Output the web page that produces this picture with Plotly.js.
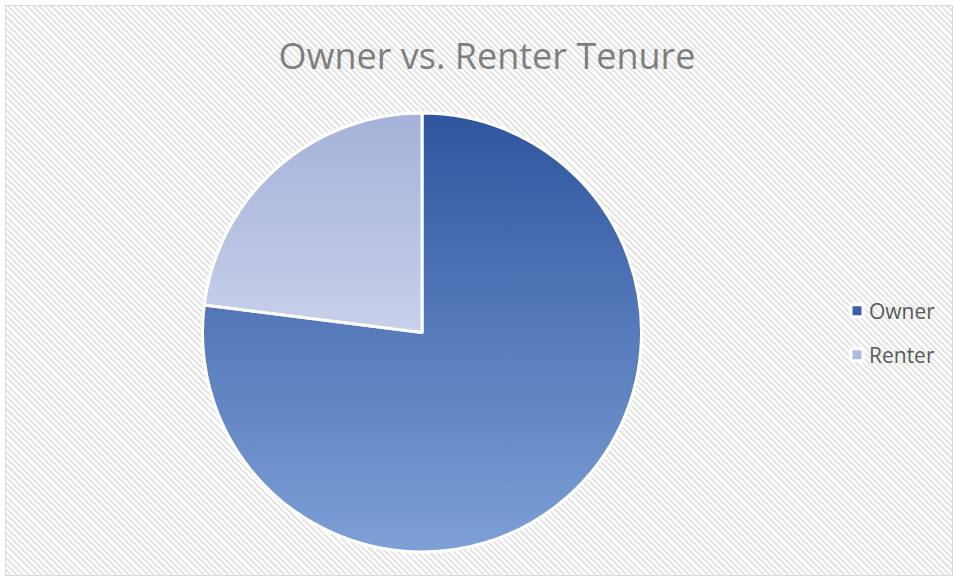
<!DOCTYPE html>
<html>
<head>
<meta charset="utf-8">
<script src="https://cdn.plot.ly/plotly-3.0.1.min.js"></script>
<style>
html,body{margin:0;padding:0;background:#fff;}
#wrap{position:absolute;left:0;top:0;width:955px;height:578px;background:#fff;}
#bg{position:absolute;left:5px;top:5px;width:948px;height:571px;border:1px solid #d9d9d9;box-sizing:border-box;
background:repeating-linear-gradient(45deg,#ffffff 0px,#ffffff 2.2px,#e6e6e6 2.2px,#e6e6e6 4.4px);}
#chart{position:absolute;left:0;top:0;width:955px;height:578px;}
</style>
</head>
<body>
<div id="wrap"><div id="bg"></div><div id="chart"></div></div>
<script>
const categories = ["Owner", "Renter"];
const shares = [77, 23];
const titleText = "Owner vs. Renter Tenure";

const data = [{
  type: "pie",
  labels: categories,
  values: shares,
  sort: false,
  direction: "clockwise",
  rotation: 0,
  textinfo: "none",
  hoverinfo: "label+percent",
  marker: {colors: ["#3d5fa9", "#aebbe0"], line: {color: "#ffffff", width: 3}},
  domain: {x: [0.2115, 0.6723], y: [0.0450, 0.8045]}
}];

const layout = {
  width: 955, height: 578,
  margin: {l: 0, r: 0, t: 0, b: 0},
  paper_bgcolor: "rgba(0,0,0,0)",
  plot_bgcolor: "rgba(0,0,0,0)",
  title: {text: titleText, x: 0.51, xanchor: "center", y: 0.903, yanchor: "middle",
          font: {family: "Open Sans, sans-serif", size: 36, color: "#7f7f7f"}},
  showlegend: true,
  legend: {x: 0.88, xanchor: "left", y: 0.424, yanchor: "middle", bgcolor: "rgba(0,0,0,0)",
           font: {family: "Open Sans, sans-serif", size: 21, color: "#595959"}},
  font: {family: "Open Sans, sans-serif"}
};

Plotly.newPlot("chart", data, layout, {displayModeBar: false, staticPlot: true}).then(function(gd){
  const svg = gd.querySelector("svg.main-svg");
  const ns = "http://www.w3.org/2000/svg";
  let defs = svg.querySelector("defs");
  if (!defs) { defs = document.createElementNS(ns, "defs"); svg.insertBefore(defs, svg.firstChild); }
  function grad(id, c1, c2) {
    const g = document.createElementNS(ns, "linearGradient");
    g.setAttribute("id", id); g.setAttribute("x1", "0"); g.setAttribute("y1", "0");
    g.setAttribute("x2", "0"); g.setAttribute("y2", "1");
    [[0, c1], [1, c2]].forEach(function(s){
      const st = document.createElementNS(ns, "stop");
      st.setAttribute("offset", s[0]); st.setAttribute("stop-color", s[1]);
      g.appendChild(st);
    });
    defs.appendChild(g);
  }
  grad("gOwner", "#2f559f", "#7ea0d6");
  grad("gRenter", "#a4b2d9", "#c8d0ea");
  const ids = ["gOwner", "gRenter"];
  gd.querySelectorAll("g.slice path.surface").forEach(function(p, i){
    p.style.fill = "url(#" + ids[i] + ")";
  });

  // legend spacing to match reference: marker centers at x=857, rows at y=311 and 355
  const targetY = [311, 355];
  const markerX = 857, textGap = 12;
  gd.querySelectorAll("g.legend g.traces").forEach(function(tr, i){
    const txt = tr.querySelector("text.legendtext");
    const pts = tr.querySelector("g.legendpoints path");
    const pb = pts.getBoundingClientRect();
    const mcx0 = pb.left + pb.width / 2;
    const tb0 = txt.getBoundingClientRect();
    const dxText = (mcx0 + textGap) - tb0.left;
    txt.setAttribute("x", parseFloat(txt.getAttribute("x") || 0) + dxText);
    const m = /translate\(([-\d.]+)[ ,]+([-\d.]+)\)/.exec(tr.getAttribute("transform") || "translate(0,0)");
    let tx = m ? parseFloat(m[1]) : 0, ty = m ? parseFloat(m[2]) : 0;
    const tb = txt.getBoundingClientRect();
    const cy = tb.top + tb.height / 2;
    tx += markerX - mcx0;
    ty += targetY[i] - cy;
    tr.setAttribute("transform", "translate(" + tx + "," + ty + ")");
  });
});
</script>
</body>
</html>
